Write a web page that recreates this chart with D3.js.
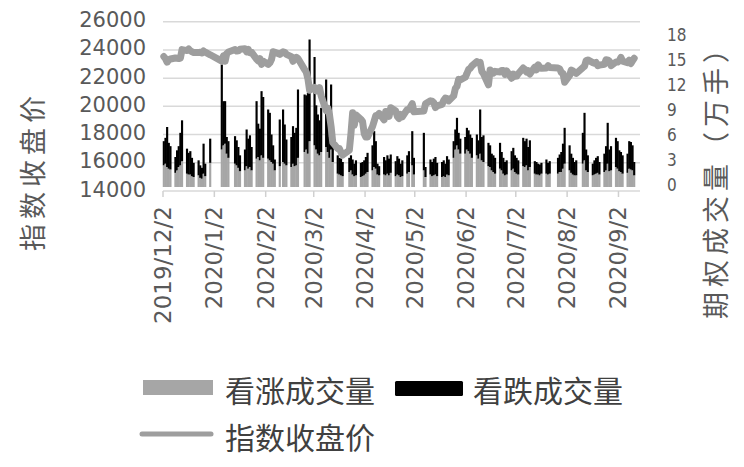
<!DOCTYPE html>
<html><head><meta charset="utf-8">
<script src="https://cdn.jsdelivr.net/npm/d3@7/dist/d3.min.js"></script>
<style>body{margin:0;background:#fff}svg{display:block}</style>
</head><body>
<svg id="c" width="744" height="467"></svg>
<script>
const dates = [
"2019-12-02","2019-12-03","2019-12-04","2019-12-05","2019-12-06","2019-12-09","2019-12-10","2019-12-11","2019-12-12","2019-12-13",
"2019-12-16","2019-12-17","2019-12-18","2019-12-19","2019-12-20","2019-12-23","2019-12-24","2019-12-25","2019-12-26","2019-12-27","2019-12-30",
"2020-01-06","2020-01-07","2020-01-08","2020-01-09","2020-01-10","2020-01-14","2020-01-15","2020-01-16","2020-01-17",
"2020-01-20","2020-01-21","2020-01-22","2020-01-23","2020-01-24","2020-01-27","2020-01-28","2020-01-29","2020-01-30","2020-01-31",
"2020-02-03","2020-02-04","2020-02-05","2020-02-06","2020-02-07","2020-02-10","2020-02-12","2020-02-13","2020-02-14",
"2020-02-17","2020-02-18","2020-02-19","2020-02-20","2020-02-21","2020-02-25","2020-02-26","2020-02-27","2020-02-28",
"2020-03-02","2020-03-03","2020-03-04","2020-03-05","2020-03-06","2020-03-09","2020-03-10","2020-03-11","2020-03-12","2020-03-13",
"2020-03-16","2020-03-17","2020-03-18","2020-03-19","2020-03-23","2020-03-24","2020-03-25","2020-03-26","2020-03-27","2020-03-30","2020-03-31",
"2020-04-01","2020-04-02","2020-04-03","2020-04-06","2020-04-07","2020-04-08","2020-04-09","2020-04-10","2020-04-13","2020-04-14",
"2020-04-15","2020-04-16","2020-04-17","2020-04-20","2020-04-21","2020-04-22","2020-04-23","2020-04-24","2020-04-27","2020-04-28","2020-04-30",
"2020-05-01","2020-05-07","2020-05-08","2020-05-11","2020-05-12","2020-05-13","2020-05-14","2020-05-15","2020-05-18",
"2020-05-19","2020-05-20","2020-05-21","2020-05-22","2020-05-25","2020-05-26","2020-05-27","2020-05-28","2020-05-29",
"2020-06-01","2020-06-02","2020-06-03","2020-06-04","2020-06-05","2020-06-08","2020-06-09","2020-06-10","2020-06-11","2020-06-12",
"2020-06-15","2020-06-16","2020-06-17","2020-06-18","2020-06-19","2020-06-22","2020-06-23","2020-06-24","2020-06-25","2020-06-26","2020-06-29","2020-06-30",
"2020-07-01","2020-07-02","2020-07-03","2020-07-06","2020-07-07","2020-07-08","2020-07-09","2020-07-10","2020-07-13","2020-07-14",
"2020-07-15","2020-07-16","2020-07-17","2020-07-20","2020-07-21","2020-07-22","2020-07-27","2020-07-28","2020-07-29","2020-07-30","2020-07-31",
"2020-08-03","2020-08-04","2020-08-05","2020-08-06","2020-08-07","2020-08-11","2020-08-12","2020-08-13","2020-08-14",
"2020-08-17","2020-08-18","2020-08-19","2020-08-20","2020-08-21","2020-08-24","2020-08-25","2020-08-26","2020-08-27","2020-08-28","2020-08-31",
"2020-09-01","2020-09-02","2020-09-03","2020-09-04","2020-09-07","2020-09-08","2020-09-09","2020-09-10","2020-09-11"
];
// 看涨成交量 (万手)
const callVol = [
2.6,2.8,2.4,2.2,2.1,1.7,2.0,2.4,2.6,3.1,1.6,1.5,1.5,1.3,1.2,1.4,1.1,1.0,1.6,1.3,2.9,
4.5,5.0,5.2,4.0,3.5,2.8,2.6,2.3,1.9,2.0,2.5,2.2,2.4,2.0,3.4,3.6,3.2,3.8,3.5,
3.4,3.2,3.0,2.8,2.0,2.5,3.0,2.8,2.6,2.4,2.8,2.5,2.6,3.5,4.2,4.5,4.0,5.5,
5.0,4.5,4.0,3.8,4.2,4.8,4.2,3.5,4.5,3.0,1.6,1.5,1.4,1.3,1.8,2.0,1.5,1.3,1.4,1.2,1.3,
1.4,1.6,1.8,2.0,2.4,2.2,1.5,1.4,1.5,1.4,1.6,1.4,1.7,1.3,1.5,1.4,1.2,1.3,1.6,1.8,2.6,
1.5,2.0,1.2,1.5,1.3,1.4,1.5,1.3,1.2,1.3,1.2,1.5,1.4,3.5,4.5,5.0,4.5,4.0,
4.0,4.5,4.3,4.0,3.5,3.8,3.4,4.0,3.2,3.0,2.5,2.4,2.0,1.8,1.6,2.2,2.0,1.6,1.4,1.5,2.0,2.2,
1.8,1.6,1.5,2.5,2.4,2.6,2.0,2.4,1.6,1.5,1.5,1.4,1.6,1.6,1.5,1.6,1.6,1.8,1.8,2.2,2.8,
2.0,1.7,1.5,1.4,1.4,2.8,3.2,2.0,1.8,1.4,1.5,1.6,1.7,1.5,1.8,2.0,2.8,1.9,2.0,2.4,
2.2,1.9,1.8,1.6,1.7,2.2,2.1,2.0,1.4
];
// 看跌成交量 (万手)
const putVol = [
2.9,3.1,4.8,3.1,2.8,1.9,2.4,2.5,3.9,4.9,3.0,2.6,2.8,2.2,1.7,1.8,1.5,1.3,3.6,1.5,2.9,
10.2,5.3,5.1,2.0,2.0,3.3,3.0,2.5,1.9,2.5,4.4,3.6,3.8,2.8,6.9,4.0,3.8,7.7,7.3,
5.9,5.7,3.3,2.2,1.3,5.6,6.3,4.7,3.1,3.6,4.5,4.0,4.5,8.2,6.9,6.5,7.3,12.2,
10.6,5.3,4.7,4.2,5.3,8.1,3.8,2.5,7.8,2.2,2.2,2.0,2.0,1.7,1.7,1.8,1.8,1.5,1.8,1.7,1.7,
1.8,2.0,2.3,3.0,4.3,3.3,1.3,1.1,2.1,1.8,2.2,2.0,2.2,1.8,2.2,2.0,1.6,1.9,2.2,2.5,4.1,
2.0,4.5,1.2,1.8,1.7,2.0,2.1,1.6,1.8,1.9,1.6,2.2,1.9,2.0,2.4,3.3,2.0,1.8,
2.0,2.6,2.5,2.3,2.4,2.5,2.2,5.3,2.8,3.2,2.8,2.6,2.0,2.0,1.9,3.1,2.2,1.9,1.6,1.7,2.3,2.5,
2.0,1.9,1.7,3.4,3.1,3.2,2.8,3.2,1.5,1.5,1.3,1.3,1.3,1.7,1.4,1.5,1.9,2.1,2.4,3.0,4.3,
3.0,2.3,2.0,1.6,1.8,3.7,5.7,2.5,2.0,1.4,1.7,1.9,2.0,1.5,2.2,2.9,4.9,2.6,2.9,3.5,
3.3,2.5,2.4,2.2,2.3,3.3,3.3,3.0,1.6
];
// 指数收盘价
const closePrice = [
23529,23379,23135,23300,23354,23430,23410,23391,23424,24023,23952,24066,23934,23864,23816,23821,23830,23782,23924,23837,23656,
23205,23575,23204,23740,23851,24025,23917,23933,24041,24083,23865,24031,23795,23827,23344,23216,23379,22977,23205,
22972,23085,23320,23874,23828,23686,23861,23828,23688,23523,23194,23401,23479,23387,22606,22426,21948,21143,
21345,21083,21100,21330,20750,19699,19867,19416,18560,17431,17002,17012,16727,16553,16888,18092,19546,18665,19389,19084,18917,
18065,17819,17820,18576,18950,19353,19345,19499,19043,19639,19550,19290,19897,19669,19281,19138,19429,19262,19783,19771,20194,
19619,19674,20179,20390,20366,20267,19915,20037,20134,20434,20595,20552,20388,20742,21272,21419,21916,21878,
22062,22325,22614,22695,22864,23178,23091,23125,22473,22305,21531,22583,22455,22355,22479,22438,22549,22535,22259,22512,21996,22288,
22122,22146,22307,22714,22614,22439,22529,22291,22784,22588,22946,22770,22696,22717,22885,22751,22715,22657,22397,22340,21710,
22195,22574,22515,22418,22329,22750,22844,23249,23289,23097,23051,23110,22880,22920,22985,23296,23290,23209,22882,23140,
23138,23247,23466,23205,23089,23274,23033,23235,23406
];
const leftTicks = [14000,16000,18000,20000,22000,24000,26000];
const rightTicks = [0,3,6,9,12,15,18];
const xTickDates = ["2019-12-02","2020-01-02","2020-02-02","2020-03-02","2020-04-02","2020-05-02","2020-06-02","2020-07-02","2020-08-02","2020-09-02"];
const xTickLabels = ["2019/12/2","2020/1/2","2020/2/2","2020/3/2","2020/4/2","2020/5/2","2020/6/2","2020/7/2","2020/8/2","2020/9/2"];
const seriesNames = ["看涨成交量","看跌成交量","指数收盘价"];
const leftTitle = "指数收盘价";
const rightTitle = "期权成交量（万手）";

const parse = d3.timeParse("%Y-%m-%d");
const svg = d3.select("#c");
const x = d3.scaleTime().domain([parse("2019-12-02"), parse("2020-09-15")]).range([163, 640]);
const yL = d3.scaleLinear().domain([14000, 26000]).range([191, 21.7]);
const yR = d3.scaleLinear().domain([0, 18]).range([187, 37]);
const numFont = "'DejaVu Sans', sans-serif";
const cjkFont = "'Noto Sans CJK SC', sans-serif";
const txt = "#595959";

// gridlines
svg.append("g").selectAll("line").data(leftTicks).join("line")
  .attr("x1", 163).attr("x2", 640)
  .attr("y1", d => yL(d)).attr("y2", d => yL(d))
  .attr("stroke", "#d9d9d9").attr("stroke-width", 1.5);

// x ticks
svg.append("g").selectAll("line").data(xTickDates).join("line")
  .attr("x1", d => x(parse(d))).attr("x2", d => x(parse(d)))
  .attr("y1", 191).attr("y2", 197)
  .attr("stroke", "#d0d0d0").attr("stroke-width", 1.5);

// bars (slightly overlapped so consecutive trading days merge)
const rows = dates.map((d, i) => ({d: parse(d), c: callVol[i], p: putVol[i]}));
const gb = svg.append("g");
rows.forEach(r => {
  const x0 = x(r.d) - 0.25, x1 = x(d3.timeDay.offset(r.d, 1)) + 0.25;
  gb.append("rect").attr("x", x0).attr("width", x1 - x0)
    .attr("y", yR(r.c)).attr("height", yR(0) - yR(r.c)).attr("fill", "#a6a6a6");
  gb.append("rect").attr("x", x0).attr("width", x1 - x0)
    .attr("y", yR(r.c + r.p)).attr("height", yR(r.c) - yR(r.c + r.p)).attr("fill", "#000");
});

// line
const line = d3.line()
  .x((d, i) => { const t = parse(d); return (x(t) + x(d3.timeDay.offset(t, 1))) / 2; })
  .y((d, i) => yL(closePrice[i]));
svg.append("path").attr("d", line(dates)).attr("fill", "none")
  .attr("stroke", "#9e9e9e").attr("stroke-width", 7)
  .attr("stroke-linejoin", "round").attr("stroke-linecap", "round");

// left axis labels
svg.append("g").selectAll("text").data(leftTicks).join("text")
  .attr("x", 146).attr("y", d => yL(d) - 1.5)
  .attr("text-anchor", "end").attr("dominant-baseline", "central")
  .attr("font-family", numFont).attr("font-size", 21).attr("fill", txt)
  .text(d => d);

// right axis labels
svg.append("g").selectAll("text").data(rightTicks).join("text")
  .attr("x", 667).attr("y", d => yR(d) - 2)
  .attr("text-anchor", "start").attr("dominant-baseline", "central")
  .attr("font-family", "'Liberation Sans Narrow','DejaVu Sans Condensed',sans-serif")
  .attr("font-size", 17).attr("fill", txt)
  .text(d => d);

// x labels
svg.append("g").selectAll("text").data(xTickDates).join("text")
  .attr("transform", d => `translate(${x(parse(d))},206) rotate(-90)`)
  .attr("text-anchor", "end").attr("dominant-baseline", "central")
  .attr("font-family", numFont).attr("font-size", 23).attr("fill", txt)
  .text((d, i) => xTickLabels[i]);

// axis titles
svg.append("text").attr("transform", "translate(31,171) rotate(-90)")
  .attr("text-anchor", "middle").attr("dominant-baseline", "central")
  .attr("font-family", cjkFont).attr("font-size", 27).attr("letter-spacing", 5)
  .attr("fill", txt).text(leftTitle);
svg.append("text").attr("transform", "translate(714,175) rotate(-90)")
  .attr("text-anchor", "middle").attr("dominant-baseline", "central")
  .attr("font-family", cjkFont).attr("font-size", 27).attr("letter-spacing", 5)
  .attr("fill", txt).text(rightTitle);

// legend
const lg = svg.append("g").attr("font-family", cjkFont).attr("font-size", 30).attr("fill", "#404040");
lg.append("rect").attr("x", 143).attr("y", 380).attr("width", 70).attr("height", 15).attr("fill", "#a6a6a6");
lg.append("text").attr("x", 225).attr("y", 389).attr("dominant-baseline", "central").text(seriesNames[0]);
lg.append("rect").attr("x", 395).attr("y", 381).attr("width", 68).attr("height", 15).attr("rx", 1.5).attr("fill", "#000");
lg.append("text").attr("x", 473).attr("y", 389).attr("dominant-baseline", "central").text(seriesNames[1]);
lg.append("line").attr("x1", 142).attr("x2", 211).attr("y1", 434).attr("y2", 434)
  .attr("stroke", "#9e9e9e").attr("stroke-width", 5).attr("stroke-linecap", "round");
lg.append("text").attr("x", 225).attr("y", 436).attr("dominant-baseline", "central").text(seriesNames[2]);
</script>
</body></html>
